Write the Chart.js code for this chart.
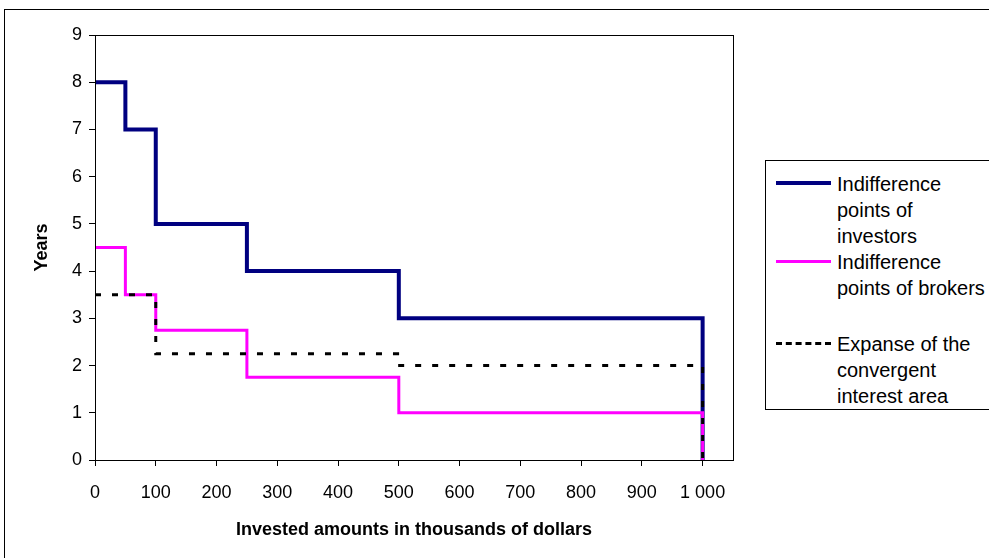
<!DOCTYPE html>
<html>
<head>
<meta charset="utf-8">
<script src="https://cdn.jsdelivr.net/npm/chart.js@4.4.0/dist/chart.umd.min.js"></script>
<style>
  html, body { margin: 0; padding: 0; background: #fff; }
  #wrap { position: relative; width: 989px; height: 558px; overflow: hidden; font-family: "Liberation Sans", Arial, sans-serif; }
  #frame { position: absolute; left: 4px; top: 9px; width: 1000px; height: 600px; border: 1px solid #000; box-sizing: border-box; }
  #myChart { position: absolute; left: 0; top: 0; }
  #legend { position: absolute; left: 765px; top: 160px; width: 240px; height: 250px; border: 1px solid #000; box-sizing: border-box; background: #fff; }
  .swatch { position: absolute; left: 10px; width: 55px; }
  .txt { position: absolute; left: 71px; font-size: 20px; line-height: 26px; color: #000; white-space: nowrap; }
</style>
</head>
<body>
<div id="wrap">
  <div id="frame"></div>
  <canvas id="myChart" width="989" height="558"></canvas>
  <div id="legend"></div>
</div>
<script>
(function () {
    "use strict";

    // invested amounts (thousands of dollars) where the steps change
    var investorsX = [0, 50, 100, 250, 500, 1000, 1000];
    var investorsY = [8, 7, 5, 4, 3, 3, 0];
    var brokersX = [0, 50, 100, 250, 500, 1000, 1000];
    var brokersY = [4.5, 3.5, 2.75, 1.75, 1, 1, 0];
    var expanseX = [0, 100, 498, 1000, 1000];
    var expanseY = [3.5, 2.25, 2, 2, 0];
    var xTicks = [0, 100, 200, 300, 400, 500, 600, 700, 800, 900, 1000];
    var yTicks = [0, 1, 2, 3, 4, 5, 6, 7, 8, 9];

    var seriesNames = [
        ['Indifference', 'points of', 'investors'],
        ['Indifference', 'points of brokers'],
        ['Expanse of the', 'convergent', 'interest area']
    ];

    function pts(xs, ys) {
        return xs.map(function (x, i) { return { x: x, y: ys[i] }; });
    }

    var frameBox = {
        id: 'frameBox',
        afterDatasetsDraw: function (chart) {
            var a = chart.chartArea, c = chart.ctx;
            c.save();
            c.strokeStyle = '#000';
            c.lineWidth = 1;
            c.strokeRect(Math.round(a.left) + 0.5, Math.round(a.top) + 0.5, Math.round(a.right - a.left), Math.round(a.bottom - a.top));
            c.restore();
        }
    };

    var tickFont = { family: 'Liberation Sans', size: 18 };
    var titleFont = { family: 'Liberation Sans', size: 18, weight: 'bold' };

    var ctx = document.getElementById('myChart').getContext('2d');
    var chart = new Chart(ctx, {
        type: 'scatter',
        data: {
            datasets: [{
                    label: seriesNames[0].join(' '),
                    data: pts(investorsX, investorsY),
                    showLine: true,
                    stepped: 'before',
                    borderColor: '#000080',
                    backgroundColor: '#000080',
                    borderWidth: 4,
                    pointRadius: 0,
                    order: 3
                },
                {
                    label: seriesNames[1].join(' '),
                    data: pts(brokersX, brokersY),
                    showLine: true,
                    stepped: 'before',
                    borderColor: '#FF00FF',
                    backgroundColor: '#FF00FF',
                    borderWidth: 3,
                    pointRadius: 0,
                    order: 2
                },
                {
                    label: seriesNames[2].join(' '),
                    data: pts(expanseX, expanseY),
                    showLine: true,
                    stepped: 'before',
                    borderColor: '#000',
                    backgroundColor: '#000',
                    borderWidth: 3,
                    borderDash: [6, 11],
                    pointRadius: 0,
                    order: 1
                }
            ]
        },
        options: {
            responsive: false,
            animation: false,
            layout: { padding: { left: 31, right: 256, top: 35, bottom: 0 } },
            plugins: {
                legend: { display: false },
                tooltip: { enabled: false }
            },
            scales: {
                x: {
                    type: 'linear',
                    min: 0,
                    max: 1050,
                    afterBuildTicks: function (s) { s.ticks = xTicks.map(function (v) { return { value: v }; }); },
                    afterFit: function (s) { s.height = 98; },
                    ticks: {
                        color: '#000',
                        font: tickFont,
                        padding: 16,
                        maxRotation: 0,
                        callback: function (v) { return v === 1000 ? '1 000' : String(v); }
                    },
                    grid: { drawOnChartArea: false, tickLength: 6, color: '#000' },
                    border: { color: '#000' },
                    title: {
                        display: true,
                        text: 'Invested amounts in thousands of dollars',
                        color: '#000',
                        font: titleFont,
                        padding: { top: 4, bottom: 17 }
                    }
                },
                y: {
                    min: 0,
                    max: 9,
                    afterBuildTicks: function (s) { s.ticks = yTicks.map(function (v) { return { value: v }; }); },
                    afterFit: function (s) { s.width = 64; },
                    ticks: {
                        color: '#000',
                        font: tickFont,
                        padding: 7
                    },
                    grid: { drawOnChartArea: false, tickLength: 6, color: '#000' },
                    border: { color: '#000' },
                    title: {
                        display: true,
                        text: 'Years',
                        color: '#000',
                        font: titleFont,
                        padding: { top: 0, bottom: 4 }
                    }
                }
            }
        },
        plugins: [frameBox]
    });

    // legend built from the dataset styles
    var legend = document.getElementById('legend');
    var rowTops = [10, 88, 170];
    chart.data.datasets.forEach(function (ds, i) {
        var sw = document.createElement('div');
        sw.className = 'swatch';
        sw.style.top = (rowTops[i] + 12 - Math.floor(ds.borderWidth / 2)) + 'px';
        sw.style.borderTop = ds.borderWidth + 'px ' + (ds.borderDash ? 'dashed ' : 'solid ') + ds.borderColor;
        legend.appendChild(sw);
        var t = document.createElement('div');
        t.className = 'txt';
        t.style.top = rowTops[i] + 'px';
        t.innerHTML = seriesNames[i].join('<br>');
        legend.appendChild(t);
    });
})();
</script>
</body>
</html>
